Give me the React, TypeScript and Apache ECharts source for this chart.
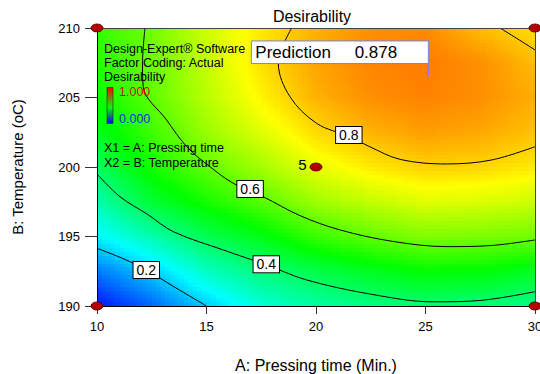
import React, { useEffect, useRef } from 'react';
import * as echarts from 'echarts';

// ---------- data ----------
const xValues = [10, 12.5, 15, 17.5, 20, 22.5, 25, 27.5, 30];
const yValues = [190, 192.5, 195, 197.5, 200, 202.5, 205, 207.5, 210];
// desirability estimates; rows follow yValues, columns follow xValues
const row190 = [0.02, 0.1, 0.2, 0.29, 0.34, 0.37, 0.39, 0.385, 0.36];
const row1925 = [0.12, 0.2, 0.31, 0.38, 0.43, 0.47, 0.5, 0.495, 0.47];
const row195 = [0.24, 0.33, 0.42, 0.48, 0.555, 0.595, 0.625, 0.62, 0.61];
const row1975 = [0.33, 0.45, 0.52, 0.585, 0.655, 0.69, 0.72, 0.715, 0.7];
const row200 = [0.41, 0.52, 0.595, 0.66, 0.73, 0.77, 0.795, 0.79, 0.77];
const row2025 = [0.47, 0.56, 0.65, 0.72, 0.785, 0.825, 0.845, 0.835, 0.81];
const row205 = [0.51, 0.59, 0.68, 0.76, 0.825, 0.86, 0.872, 0.86, 0.83];
const row2075 = [0.54, 0.605, 0.695, 0.78, 0.84, 0.87, 0.878, 0.86, 0.815];
const row210 = [0.55, 0.61, 0.7, 0.77, 0.825, 0.86, 0.865, 0.815, 0.78];
const desirabilityRows = [row190, row1925, row195, row1975, row200, row2025, row205, row2075, row210];

const contour02 = [[10, 194.15], [11.2, 193.4], [12.25, 192.6], [13.5, 191.4], [15, 190]];
const contour04 = [[10, 199.5], [11.05, 197.86], [12.3, 196.6], [13.48, 195.35], [15.77, 194.03], [17.75, 192.95], [19.58, 191.87], [22.5, 190.85], [25.36, 190.3], [27.5, 190.4], [30, 191.03]];
const contour06 = [[12.19, 210], [12.08, 207.5], [12.11, 205.78], [13.18, 203.38], [14.1, 201.46], [15.16, 200.02], [16.22, 198.83], [17.59, 197.86], [19.27, 196.5], [21.1, 195.47], [23.5, 194.65], [25.97, 194.27], [28, 194.35], [30, 194.75]];
const contour08a = [[18.89, 210], [18.28, 207.46], [18.81, 205.06], [20.03, 203.14], [21.5, 202.2], [22.4, 201.5], [23.84, 200.55], [25.97, 200.22], [28, 200.5], [30, 201.46]];
const contour08b = [[28.4, 210], [29.16, 209.26], [30, 208.42]];
const contourLabels = [[12.25, 192.59, '0.2'], [17.73, 193.0, '0.4'], [16.99, 198.42, '0.6'], [21.5, 202.3, '0.8']];

const designPoints = [[10, 190], [10, 210], [30, 190], [30, 210]];
const centerPoint = [20, 200];
const centerReplicates = '5';

const predictionX = 25.13;
const predictionY = 206.6;
const predictionValue = '0.878';

const xTicks = { min: 10, max: 30, step: 5 };
const yTicks = { min: 190, max: 210, step: 5 };

// ---------- styles ----------
const FONT = '"Liberation Sans", Arial, Helvetica, sans-serif';
const COLOR_STOPS: [number, number[]][] = [
  [0, [0, 0, 255]],
  [0.25, [0, 255, 255]],
  [0.5, [0, 255, 0]],
  [0.75, [255, 255, 0]],
  [1, [255, 0, 0]],
];

function colorFor(v: number): string {
  const t = Math.max(0, Math.min(1, v));
  for (let i = 0; i < COLOR_STOPS.length - 1; i++) {
    const [a, ca] = COLOR_STOPS[i];
    const [b, cb] = COLOR_STOPS[i + 1];
    if (t <= b) {
      const f = (t - a) / (b - a);
      const c = ca.map((q, k) => Math.round(q + (cb[k] - q) * f));
      return `rgb(${c[0]},${c[1]},${c[2]})`;
    }
  }
  return 'rgb(255,0,0)';
}

// cells built from the grid
const cells: number[][] = [];
for (let j = 0; j < yValues.length - 1; j++) {
  for (let i = 0; i < xValues.length - 1; i++) {
    cells.push([
      xValues[i], xValues[i + 1], yValues[j], yValues[j + 1],
      desirabilityRows[j][i], desirabilityRows[j][i + 1],
      desirabilityRows[j + 1][i], desirabilityRows[j + 1][i + 1],
    ]);
  }
}

const SUB_X = 12;
const SUB_Y = 9;

function renderCell(_params: any, api: any) {
  const x0 = api.value(0), x1 = api.value(1), y0 = api.value(2), y1 = api.value(3);
  const v00 = api.value(4), v10 = api.value(5), v01 = api.value(6), v11 = api.value(7);
  const tl = api.coord([x0, y1]);
  const br = api.coord([x1, y0]);
  const w = (br[0] - tl[0]) / SUB_X;
  const h = (br[1] - tl[1]) / SUB_Y;
  const children: any[] = [];
  for (let a = 0; a < SUB_X; a++) {
    const xa = Math.round(tl[0] + a * w);
    const xb = Math.round(tl[0] + (a + 1) * w);
    const u = (a + 0.5) / SUB_X;
    const top = v01 * (1 - u) + v11 * u;
    const bottom = v00 * (1 - u) + v10 * u;
    for (let b = 0; b < SUB_Y; b++) {
      const ya = Math.round(tl[1] + b * h);
      const yb = Math.round(tl[1] + (b + 1) * h);
      const t = (b + 0.5) / SUB_Y;
      const v = top * (1 - t) + bottom * t;
      children.push({
        type: 'rect',
        shape: { x: xa, y: ya, width: xb - xa, height: yb - ya },
        style: { fill: colorFor(v) },
        silent: true,
      });
    }
  }
  return { type: 'group', children };
}

const contourLine = (data: number[][]) => ({
  type: 'line',
  data,
  smooth: 0.35,
  showSymbol: false,
  symbol: 'none',
  silent: true,
  clip: true,
  z: 3,
  lineStyle: { color: '#000', width: 1 },
});

export default function App() {
  const ref = useRef<HTMLDivElement>(null);
  useEffect(() => {
    document.body.style.margin = '0';
    if (!ref.current) return;
    const chart = echarts.init(ref.current, undefined, { renderer: 'svg' });
    const axisBorder = { show: true, onZero: false, lineStyle: { color: '#444', width: 1 } };
    const option: any = {
      animation: false,
      textStyle: { fontFamily: FONT },
      grid: { left: 97, right: 5, top: 28, bottom: 68, containLabel: false, outerBoundsMode: 'none' },
      xAxis: [
        {
          type: 'value', min: xTicks.min, max: xTicks.max, interval: xTicks.step, z: 5,
          axisLine: { show: true, onZero: false, lineStyle: { color: '#000' } },
          axisTick: { show: true, length: 8, lineStyle: { color: '#333' } },
          axisLabel: { fontSize: 13, color: '#000', margin: 14, fontFamily: FONT },
          splitLine: { show: false },
          name: 'A: Pressing time (Min.)', nameLocation: 'middle', nameGap: 51,
          nameTextStyle: { fontSize: 16, color: '#000', fontFamily: FONT },
        },
        {
          type: 'value', position: 'top', min: xTicks.min, max: xTicks.max, z: 5,
          axisLine: axisBorder, axisTick: { show: false }, axisLabel: { show: false }, splitLine: { show: false },
        },
      ],
      yAxis: [
        {
          type: 'value', min: yTicks.min, max: yTicks.max, interval: yTicks.step, z: 5,
          axisLine: { show: true, onZero: false, lineStyle: { color: '#000' } },
          axisTick: { show: true, length: 12, lineStyle: { color: '#333' } },
          axisLabel: { fontSize: 13, color: '#000', margin: 17, fontFamily: FONT },
          splitLine: { show: false },
          name: 'B: Temperature (oC)', nameLocation: 'middle', nameGap: 72, nameRotate: 90,
          nameTextStyle: { fontSize: 15, color: '#000', fontFamily: FONT },
        },
        {
          type: 'value', position: 'right', min: yTicks.min, max: yTicks.max, z: 5,
          axisLine: axisBorder, axisTick: { show: false }, axisLabel: { show: false }, splitLine: { show: false },
        },
      ],
      series: [
        {
          type: 'custom',
          renderItem: renderCell,
          data: cells,
          encode: { x: [0, 1], y: [2, 3] },
          clip: true,
          silent: true,
          z: 1,
        },
        contourLine(contour02),
        contourLine(contour04),
        contourLine(contour06),
        contourLine(contour08a),
        contourLine(contour08b),
        {
          type: 'scatter',
          data: contourLabels,
          symbolSize: 1,
          itemStyle: { color: 'rgba(0,0,0,0)', opacity: 1 },
          silent: true,
          z: 4,
          label: {
            show: true, position: 'inside', formatter: (p: any) => p.value[2],
            fontSize: 14, color: '#000', fontFamily: FONT, opacity: 1,
            backgroundColor: '#ffffff', borderColor: '#000', borderWidth: 1,
            padding: [1, 3, 0, 3], lineHeight: 15,
          },
        },
        {
          type: 'scatter',
          data: [
            ...designPoints.map((p) => ({ value: p })),
            {
              value: centerPoint,
              label: {
                show: true, formatter: centerReplicates, position: 'left', distance: 3,
                offset: [0, -3], fontSize: 15, color: '#000', fontFamily: FONT,
              },
            },
          ],
          symbol: 'circle',
          symbolSize: [12, 8],
          clip: false,
          silent: true,
          z: 6,
          itemStyle: { color: '#b50000', borderColor: '#4a0000', borderWidth: 0.8, opacity: 1 },
        },
      ],
    };
    chart.setOption(option);

    const anchor = chart.convertToPixel({ gridIndex: 0 }, [predictionX, predictionY]) as number[];
    const boxW = 177;
    const boxH = 22.6;
    const boxX = anchor[0] - boxW;
    const boxY = anchor[1] - 34.3;
    const legendX = 104;
    chart.setOption({
      graphic: [
        { type: 'text', x: 312, y: 16, z: 10, style: { text: 'Desirability', fontSize: 16, fontFamily: FONT, fill: '#000', align: 'center', verticalAlign: 'middle' } },
        { type: 'text', x: legendX, y: 49, z: 10, style: { text: 'Design-Expert® Software', fontSize: 12.5, fontFamily: FONT, fill: '#000', verticalAlign: 'middle' } },
        { type: 'text', x: legendX, y: 63.3, z: 10, style: { text: 'Factor Coding: Actual', fontSize: 12.5, fontFamily: FONT, fill: '#000', verticalAlign: 'middle' } },
        { type: 'text', x: legendX, y: 77.3, z: 10, style: { text: 'Desirability', fontSize: 12.5, fontFamily: FONT, fill: '#000', verticalAlign: 'middle' } },
        {
          type: 'rect', z: 10, shape: { x: 107, y: 87.5, width: 6, height: 36 },
          style: {
            fill: new echarts.graphic.LinearGradient(0, 0, 0, 1, [
              { offset: 0, color: '#ff0000' },
              { offset: 0.55, color: '#00ff00' },
              { offset: 1, color: '#0000ff' },
            ]),
            stroke: '#222', lineWidth: 0.6,
          },
        },
        { type: 'text', x: 119, y: 91.7, z: 10, style: { text: '1.000', fontSize: 12.5, fontFamily: FONT, fill: '#e00000', verticalAlign: 'middle' } },
        { type: 'text', x: 119, y: 119.3, z: 10, style: { text: '0.000', fontSize: 12.5, fontFamily: FONT, fill: '#1030e0', verticalAlign: 'middle' } },
        { type: 'text', x: legendX, y: 148.3, z: 10, style: { text: 'X1 = A: Pressing time', fontSize: 12.5, fontFamily: FONT, fill: '#000', verticalAlign: 'middle' } },
        { type: 'text', x: legendX, y: 163.3, z: 10, style: { text: 'X2 = B: Temperature', fontSize: 12.5, fontFamily: FONT, fill: '#000', verticalAlign: 'middle' } },
        { type: 'line', z: 10, shape: { x1: anchor[0], y1: boxY + boxH, x2: anchor[0], y2: anchor[1] }, style: { stroke: '#7b7bff', lineWidth: 1 } },
        { type: 'circle', z: 10, shape: { cx: anchor[0], cy: anchor[1], r: 1.2 }, style: { fill: '#7b7bff' } },
        { type: 'rect', z: 10, shape: { x: boxX, y: boxY, width: boxW, height: boxH }, style: { fill: '#fff', stroke: '#7b7bff', lineWidth: 1 } },
        { type: 'text', x: boxX + 4, y: boxY + boxH / 2 + 0.5, z: 11, style: { text: 'Prediction', fontSize: 17, fontFamily: FONT, fill: '#000', verticalAlign: 'middle' } },
        { type: 'text', x: boxX + 103.3, y: boxY + boxH / 2 + 0.5, z: 11, style: { text: predictionValue, fontSize: 17, fontFamily: FONT, fill: '#000', verticalAlign: 'middle' } },
      ],
    });
    return () => chart.dispose();
  }, []);
  return <div ref={ref} style={{ width: 540, height: 374 }} />;
}
